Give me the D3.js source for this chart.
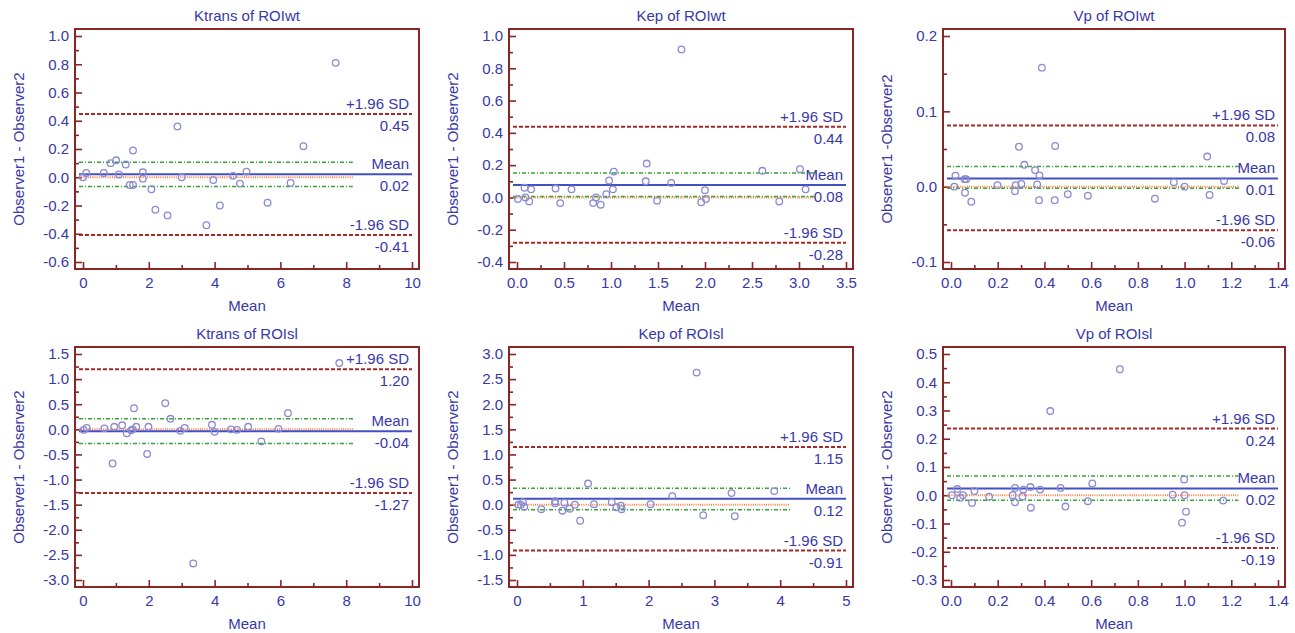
<!DOCTYPE html>
<html>
<head>
<meta charset="utf-8">
<script src="https://cdn.jsdelivr.net/npm/d3@7"></script>
<style>
  body { margin: 0; background: #fff; }
  text { font-family: "Liberation Sans", Arial, sans-serif; }
</style>
</head>
<body>
<div id="chart"></div>
<script>
// panel titles and y labels
const titles = ["Ktrans of ROIwt", "Kep of ROIwt", "Vp of ROIwt", "Ktrans of ROIsl", "Kep of ROIsl", "Vp of ROIsl"]
const yLabels = ["Observer1 - Observer2", "Observer1 - Observer2", "Observer1 -Observer2",
                 "Observer1 - Observer2", "Observer1 - Observer2", "Observer1 - Observer2"]

// Ktrans of ROIwt
const ktransWtMean = [0.0,0.1,0.63,0.84,1.01,1.09,1.30,1.42,1.52,1.52,1.82,1.82,2.08,2.20,2.57,2.87,3.0,3.75,3.96,4.16,4.56,4.77,4.97,5.61,6.31,6.70,7.68]
const ktransWtDiff = [0.0,0.03,0.03,0.10,0.12,0.02,0.09,-0.055,-0.055,0.19,0.035,-0.01,-0.085,-0.23,-0.27,0.36,0.0,-0.34,-0.02,-0.20,0.01,-0.045,0.04,-0.18,-0.04,0.22,0.81]
// Kep of ROIwt
const kepWtMean = [0.01,0.08,0.09,0.13,0.15,0.41,0.46,0.58,0.81,0.84,0.89,0.95,0.98,1.02,1.03,1.37,1.38,1.49,1.64,1.75,1.96,2.0,2.01,2.61,2.79,3.01,3.07]
const kepWtDiff = [-0.01,0.06,0.0,-0.025,0.05,0.055,-0.035,0.05,-0.035,0.0,-0.045,0.02,0.105,0.05,0.16,0.10,0.21,-0.02,0.09,0.917,-0.03,0.045,-0.01,0.165,-0.025,0.175,0.05]
// Vp of ROIwt
const vpWtMean = [0.019,0.014,0.058,0.065,0.06,0.087,0.199,0.277,0.274,0.291,0.301,0.314,0.360,0.369,0.379,0.377,0.389,0.444,0.446,0.50,0.586,0.873,0.954,1.0,1.097,1.107,1.169]
const vpWtDiff = [0.0147,0.0,0.010,0.010,-0.008,-0.020,0.002,0.002,-0.006,0.053,0.0036,0.029,0.022,0.003,0.015,-0.018,0.158,-0.018,0.054,-0.010,-0.012,-0.016,0.006,0.0,0.040,-0.011,0.0076]
// Ktrans of ROIsl
const ktransSlMean = [0.02,0.11,0.65,0.95,0.90,1.19,1.33,1.46,1.51,1.55,1.62,1.95,1.99,2.50,2.66,2.96,3.09,3.35,3.92,4.0,4.50,4.68,5.02,5.42,5.94,6.23,7.79]
const ktransSlDiff = [-0.01,0.03,0.02,0.05,-0.68,0.08,-0.08,-0.02,0.0,0.42,0.05,-0.49,0.05,0.52,0.21,-0.03,0.03,-2.67,0.09,-0.05,0.0,-0.01,0.05,-0.24,0.01,0.32,1.32]
// Kep of ROIsl
const kepSlMean = [0.02,0.06,0.09,0.11,0.37,0.58,0.58,0.69,0.72,0.80,0.88,0.96,1.08,1.17,1.44,1.51,1.58,1.59,2.03,2.36,2.73,2.83,3.26,3.31,3.91]
const kepSlDiff = [0.0,0.0,0.05,-0.04,-0.09,0.07,0.03,-0.12,0.04,-0.08,0.0,-0.32,0.42,0.01,0.05,-0.05,-0.02,-0.09,0.01,0.17,2.63,-0.21,0.23,-0.23,0.27]
// Vp of ROIsl
const vpSlMean = [0.004,0.027,0.04,0.051,0.09,0.10,0.163,0.264,0.274,0.274,0.306,0.31,0.34,0.342,0.382,0.425,0.469,0.49,0.586,0.605,0.723,0.949,0.989,0.998,1.0,1.006,1.165]
const vpSlDiff = [0.0,0.022,-0.009,0.0,-0.027,0.015,-0.005,0.0,0.026,-0.025,-0.004,0.02,0.029,-0.044,0.02,0.298,0.026,-0.04,-0.021,0.042,0.446,0.002,-0.097,0.056,0.0,-0.058,-0.019]

const xValues = [ktransWtMean, kepWtMean, vpWtMean, ktransSlMean, kepSlMean, vpSlMean]
const yValues = [ktransWtDiff, kepWtDiff, vpWtDiff, ktransSlDiff, kepSlDiff, vpSlDiff]

// Bland-Altman statistics
const meanDiff = [0.021, 0.077, 0.011, -0.04, 0.12, 0.024]
const upperLoA = [0.447, 0.438, 0.0813, 1.197, 1.147, 0.236]
const lowerLoA = [-0.408, -0.28, -0.0578, -1.27, -0.913, -0.187]
const ciUpper = [0.106, 0.151, 0.0267, 0.21, 0.325, 0.068]
const ciLower = [-0.066, 0.006, -0.002, -0.28, -0.10, -0.018]
const ciEnd = [8.2, 3.17, 1.236, 8.24, 4.15, 1.23]

// axis ranges and tick steps
const yDomains = [[-0.6, 1.0], [-0.4, 1.0], [-0.1, 0.2], [-3.0, 1.5], [-1.5, 3.0], [-0.3, 0.5]]
const yStep = [0.2, 0.2, 0.1, 0.5, 0.5, 0.1]
const xDomains = [[0, 10], [0, 3.5], [0, 1.4], [0, 10], [0, 5], [0, 1.4]]
const xStep = [2, 0.5, 0.2, 2, 1, 0.2]
const xFormat = [".0f", ".1f", ".1f", ".0f", ".0f", ".1f"]

const textColor = "#3838a8", frameColor = "#8b2424"
const fontSize = "15px"

// plain hyphen as minus sign, like the original
const locale = d3.formatLocale({decimal: ".", thousands: ",", grouping: [3], currency: ["", ""], minus: "-"})

const svg = d3.select("#chart").append("svg")
    .attr("width", 1295)
    .attr("height", 633)

const colLeft = [75, 509, 943], colWidth = [344, 344, 342]
const rowTop = [29, 347], frameH = 240

function ticksOf(dom, step) {
  const n = Math.round((dom[1] - dom[0]) / step)
  return d3.range(n + 1).map(i => +(dom[0] + i * step).toFixed(6))
}

titles.forEach(function(title, i) {
  const left = colLeft[i % 3], top = rowTop[Math.floor(i / 3)], w = colWidth[i % 3]
  const g = svg.append("g")

  const x = d3.scaleLinear().domain(xDomains[i]).range([left + 8, left + w - 7])
  const y = d3.scaleLinear().domain(yDomains[i]).range([top + frameH - 7, top + 7])

  const majorY = ticksOf(yDomains[i], yStep[i])
  const minorY = ticksOf(yDomains[i], yStep[i] / 2).filter(v => !majorY.some(m => Math.abs(m - v) < 1e-9))
  const majorX = ticksOf(xDomains[i], xStep[i])
  const minorX = ticksOf(xDomains[i], xStep[i] / 2).filter(v => !majorX.some(m => Math.abs(m - v) < 1e-9))

  // y axis (ticks point inward)
  g.append("g").attr("transform", `translate(${left},0)`)
    .call(d3.axisLeft(y).tickValues(majorY).tickSize(-7).tickPadding(6).tickFormat(locale.format(".1f")))
  g.append("g").attr("transform", `translate(${left},0)`)
    .call(d3.axisLeft(y).tickValues(minorY).tickSize(-4).tickFormat(""))
  // x axis
  g.append("g").attr("transform", `translate(0,${top + frameH})`)
    .call(d3.axisBottom(x).tickValues(majorX).tickSize(-7).tickPadding(8).tickFormat(locale.format(xFormat[i])))
  g.append("g").attr("transform", `translate(0,${top + frameH})`)
    .call(d3.axisBottom(x).tickValues(minorX).tickSize(-4).tickFormat(""))

  g.selectAll(".domain").remove()
  g.selectAll(".tick line").attr("stroke", frameColor).attr("stroke-width", 1.6)
  g.selectAll(".tick text").attr("fill", textColor).style("font-size", fontSize)

  const x0 = left + 4
  // line of equality
  g.append("line").attr("x1", x0).attr("x2", x(ciEnd[i]))
    .attr("y1", y(0)).attr("y2", y(0))
    .attr("stroke", "#ff8040").attr("stroke-width", 2).attr("stroke-dasharray", "1,1.2")
  // green dash-dot lines
  ;[ciUpper[i], ciLower[i]].forEach(v => {
    g.append("line").attr("x1", x0).attr("x2", x(ciEnd[i]))
      .attr("y1", y(v)).attr("y2", y(v))
      .attr("stroke", "#36a536").attr("stroke-width", 1.5).attr("stroke-dasharray", "4,2,1,2")
  })
  // limits of agreement
  ;[upperLoA[i], lowerLoA[i]].forEach(v => {
    g.append("line").attr("x1", x0).attr("x2", x(xDomains[i][1]))
      .attr("y1", y(v)).attr("y2", y(v))
      .attr("stroke", "#a82828").attr("stroke-width", 2).attr("stroke-dasharray", "4,2")
  })
  // mean difference
  g.append("line").attr("x1", x0).attr("x2", x(xDomains[i][1]))
    .attr("y1", y(meanDiff[i])).attr("y2", y(meanDiff[i]))
    .attr("stroke", "#4250c4").attr("stroke-width", 2)

  // points
  g.selectAll("circle")
    .data(d3.zip(xValues[i], yValues[i]))
    .join("circle")
      .attr("cx", d => x(d[0]))
      .attr("cy", d => y(d[1]))
      .attr("r", 3.3)
      .attr("fill", "none")
      .attr("stroke", "#8a8ad4")
      .attr("stroke-width", 1.3)

  // frame
  g.append("rect").attr("x", left).attr("y", top).attr("width", w).attr("height", frameH)
    .attr("fill", "none").attr("stroke", frameColor).attr("stroke-width", 2)

  // line labels
  const lx = left + w - 10
  const fmt = locale.format(".2f")
  const labels = [
    ["+1.96 SD", upperLoA[i]],
    ["Mean", meanDiff[i]],
    ["-1.96 SD", lowerLoA[i]]
  ]
  labels.forEach(function(l) {
    g.append("text").attr("x", lx).attr("y", y(l[1]) - 5)
      .attr("text-anchor", "end").attr("fill", textColor).style("font-size", fontSize)
      .text(l[0])
    g.append("text").attr("x", lx).attr("y", y(l[1]) + 17)
      .attr("text-anchor", "end").attr("fill", textColor).style("font-size", fontSize)
      .text(fmt(l[1]))
  })

  // titles
  g.append("text").attr("x", left + w / 2).attr("y", top - 8)
    .attr("text-anchor", "middle").attr("fill", textColor).style("font-size", fontSize)
    .text(title)
  g.append("text").attr("x", left + w / 2).attr("y", top + frameH + 42)
    .attr("text-anchor", "middle").attr("fill", textColor).style("font-size", fontSize)
    .text("Mean")
  g.append("text")
    .attr("transform", `translate(${left - 56},${top + frameH / 2}) rotate(-90)`)
    .attr("text-anchor", "middle").attr("dy", "0.35em")
    .attr("fill", textColor).style("font-size", fontSize)
    .text(yLabels[i])
})
</script>
</body>
</html>
